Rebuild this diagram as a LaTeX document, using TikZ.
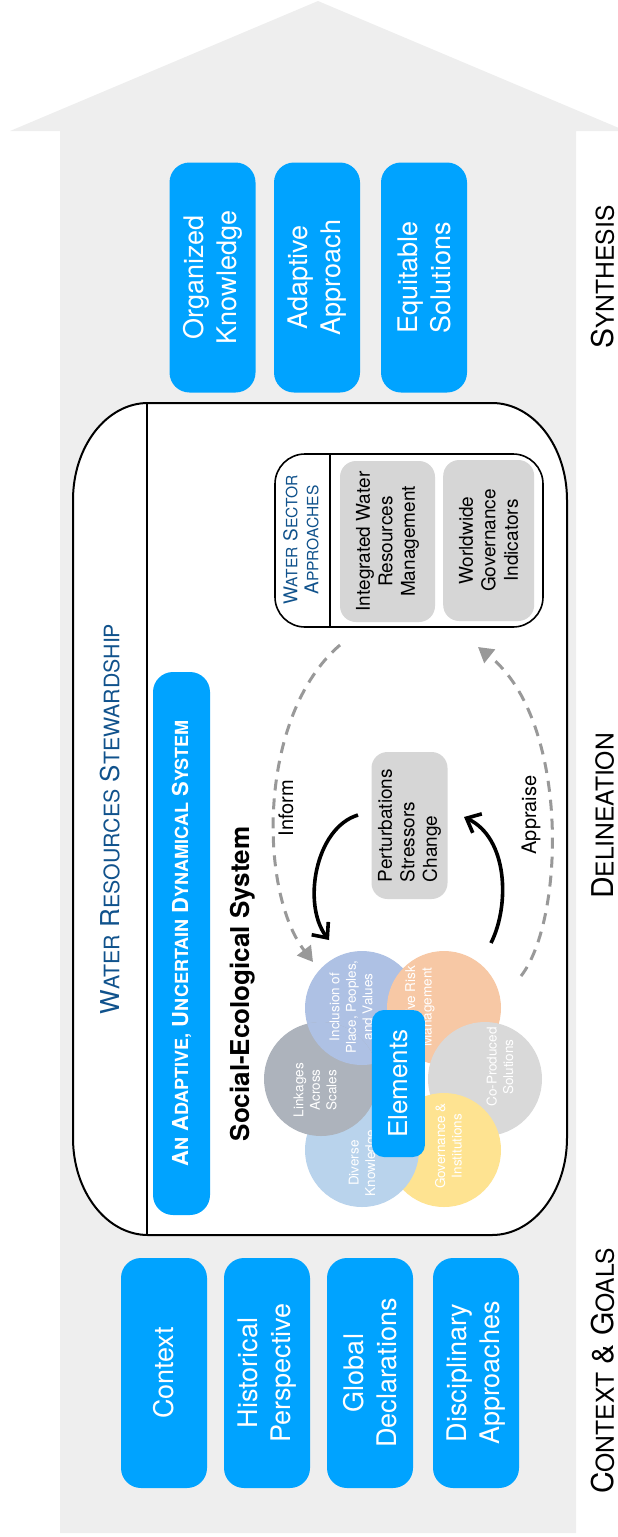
\documentclass[tikz,border=0pt]{standalone}
\usepackage{fontspec}
\setmainfont{TeX Gyre Heros}
\usetikzlibrary{arrows.meta}
\definecolor{panelgray}{RGB}{238,238,238}
\definecolor{bluebox}{RGB}{0,163,255}
\definecolor{greybox}{RGB}{214,214,214}
\definecolor{titleblue}{RGB}{16,82,140}
\definecolor{dashgray}{RGB}{153,153,153}
\definecolor{pinclusion}{RGB}{174,193,228}
\definecolor{prisk}{RGB}{247,200,165}
\definecolor{pcoprod}{RGB}{217,217,217}
\definecolor{pgovern}{RGB}{254,227,145}
\definecolor{pdiverse}{RGB}{185,211,236}
\definecolor{plinkage}{RGB}{173,179,188}

\makeatletter
\newcommand{\lowcaps}[1]{{\fontsize{\strip@pt\dimexpr0.82\dimexpr\f@size pt\relax\relax}{\f@baselineskip}\selectfont #1}}
\makeatother

\begin{document}
\begin{tikzpicture}[x=1pt,y=-1pt,
    pillar/.style={rotate=90,fill=bluebox,text=white,rounded corners=20pt,align=center,inner sep=0pt,minimum width=230pt,minimum height=86pt,font=\fontsize{27}{33}\selectfont},
    approach/.style={rotate=90,fill=greybox,rounded corners=16pt,align=center,inner sep=0pt,font=\fontsize{19}{22.5}\selectfont},
    petal/.style={circle,inner sep=0pt,minimum size=114pt},
    petaltext/.style={rotate=90,text=white,align=center,font=\fontsize{13.5}{16.5}\selectfont},
    stage/.style={rotate=90,font=\fontsize{30}{30}\selectfont},
    loopline/.style={line width=3.6pt,-{Straight Barb[length=12pt,width=21pt]}},
    feedback/.style={line width=3pt,dashgray,dash pattern=on 11pt off 8pt,-{Triangle[length=15pt,width=17pt]}}]
        \useasboundingbox (0,0) rectangle (618,1537);
        \fill[panelgray] (60,1533) -- (60,131) -- (10,131) -- (318,1) -- (626,131) -- (576,131) -- (576,1533) -- cycle;

        % synthesis
        \node[pillar] (organized) at (212.5,277.5) {Organized\\Knowledge};
        \node[pillar] (adaptiveap) at (317,277.5) {Adaptive\\Approach};
        \node[pillar] (equitable) at (424,277.5) {Equitable\\Solutions};

        % delineation
        \draw[line width=2pt,fill=white] (148,403) -- (492,403) arc[start angle=270,end angle=360,x radius=75,y radius=97]
            -- (567,1138) arc[start angle=0,end angle=90,x radius=75,y radius=97]
            -- (148,1235) arc[start angle=90,end angle=180,x radius=75,y radius=97]
            -- (73,500) arc[start angle=180,end angle=270,x radius=75,y radius=97] -- cycle;
        \draw[line width=1.2pt] (147,404) -- (147,1234);
        \node[rotate=90,text=titleblue,font=\fontsize{26}{26}\selectfont] (title) at (110,819) {W\lowcaps{ATER} R\lowcaps{ESOURCES} S\lowcaps{TEWARDSHIP}};
        \node[rotate=90,fill=bluebox,text=white,rounded corners=20pt,inner sep=0pt,minimum width=543pt,minimum height=57pt,font=\bfseries\fontsize{22}{22}\selectfont] (uncertain) at (181.5,943.5) {A\lowcaps{N} A\lowcaps{DAPTIVE,} U\lowcaps{NCERTAIN} D\lowcaps{YNAMICAL} S\lowcaps{YSTEM}};
        \node[rotate=90,font=\bfseries\fontsize{26}{26}\selectfont] (ses) at (243,984) {Social-Ecological System};

        \draw[line width=1.6pt,fill=white,rounded corners=30pt] (275,454) rectangle (543,627);
        \draw[line width=1.2pt] (330,454) -- (330,627);
        \node[rotate=90,text=titleblue,align=center,font=\fontsize{19}{21}\selectfont] (wsa) at (301,540) {W\lowcaps{ATER} S\lowcaps{ECTOR}\\A\lowcaps{PPROACHES}};
        \node[approach,minimum width=161pt,minimum height=95pt] (iwrm) at (387.5,541.5) {Integrated Water\\Resources\\Management};
        \node[approach,minimum width=161pt,minimum height=91pt] (wgi) at (488.7,540.5) {Worldwide\\Governance\\Indicators};
        \node[approach,align=left,minimum width=147pt,minimum height=76pt] (pert) at (409.5,825.5) {Perturbations\\Stressors\\Change};

        \coordinate (wsaout) at (340,645);
        \coordinate (flowerin) at (313,962);
        \coordinate (flowerout) at (521,976);
        \coordinate (wsain) at (478,647);
        \draw[feedback] (wsaout) .. controls (258,715) and (258,890) .. (flowerin);
        \draw[feedback] (flowerout) .. controls (565,920) and (570,720) .. (wsain);
        \node[rotate=90,font=\fontsize{20}{20}\selectfont] (inform) at (286,808) {Inform};
        \node[rotate=90,font=\fontsize{20}{20}\selectfont] (appraise) at (531,815) {Appraise};

        \coordinate (pertout) at (358,815);
        \coordinate (inclin) at (329,940);
        \coordinate (riskout) at (491,943);
        \coordinate (pertin) at (464,817);
        \draw[loopline] (pertout) .. controls (315,828) and (302,905) .. (inclin);
        \draw[loopline] (riskout) .. controls (510,905) and (508,838) .. (pertin);

        % elements
        \node[petal,fill=pinclusion] (inclusion) at (362,1008) {};
        \node[petal,fill=prisk] (risk) at (444,1008) {};
        \node[petal,fill=pcoprod] (coprod) at (485,1079) {};
        \node[petal,fill=pgovern] (govern) at (444,1150) {};
        \node[petal,fill=pdiverse] (diverse) at (362,1150) {};
        \node[petal,fill=plinkage] (linkage) at (321,1079) {};
        \begin{scope}
            \clip (321,1079) circle (57);
            \fill[pinclusion] (362,1008) circle (57);
        \end{scope}
        \node[petaltext] (inclusiontext) at (351,1007) {Inclusion of\\Place, Peoples,\\and Values};
        \node[petaltext] (risktext) at (420,1007) {Adaptive Risk\\Management};
        \node[petaltext] (coprodtext) at (500,1067) {Co-Produced\\Solutions};
        \node[petaltext] (governtext) at (448.5,1146) {Governance \&\\Institutions};
        \node[petaltext] (diversetext) at (363.5,1163) {Diverse\\Knowledge};
        \node[petaltext] (linkagetext) at (315,1090) {Linkages\\Across\\Scales};
        \node[rotate=90,fill=bluebox,text=white,rounded corners=12pt,inner sep=0pt,minimum width=147pt,minimum height=53pt,font=\fontsize{26}{26}\selectfont] (elements) at (398.4,1083.5) {Elements};

        % context and goals
        \node[pillar] (context) at (164,1373) {Context};
        \node[pillar] (historical) at (267,1373) {Historical\\Perspective};
        \node[pillar] (global) at (370,1373) {Global\\Declarations};
        \node[pillar] (disciplinary) at (476,1373) {Disciplinary\\Approaches};

        \node[stage] (synthesis) at (603,277) {S\lowcaps{YNTHESIS}};
        \node[stage] (delineation) at (603,816) {D\lowcaps{ELINEATION}};
        \node[stage] (goals) at (603,1371) {C\lowcaps{ONTEXT} \& G\lowcaps{OALS}};
    \end{tikzpicture}
\end{document}
